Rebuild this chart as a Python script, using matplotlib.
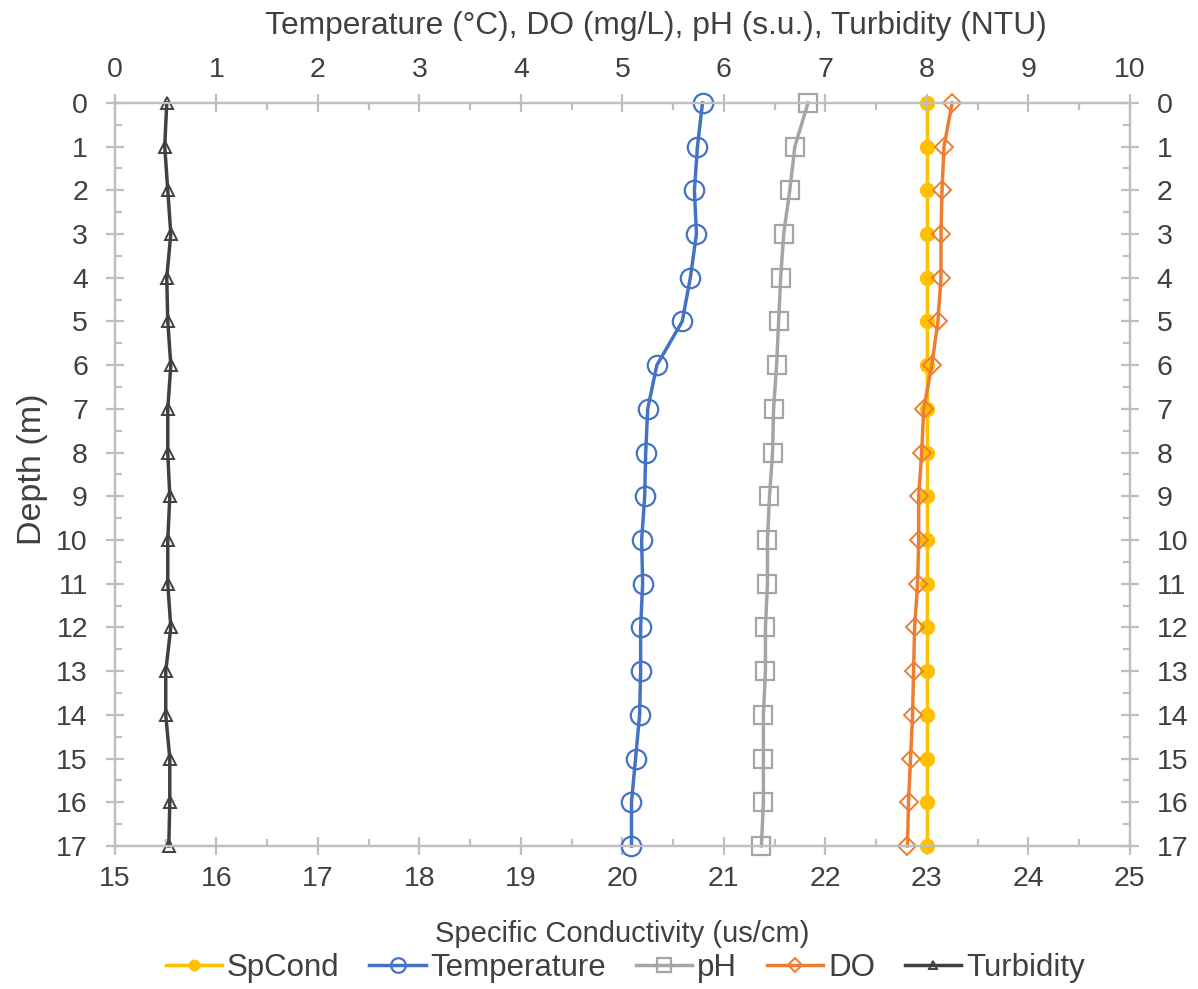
import matplotlib.pyplot as plt
from matplotlib.ticker import MultipleLocator

# Depth profile values
depth = list(range(18))
spcond = [23.0] * 18  # us/cm, bottom axis
temperature = [5.79, 5.74, 5.71, 5.73, 5.67, 5.59, 5.34, 5.25, 5.23, 5.22,
               5.19, 5.20, 5.18, 5.18, 5.17, 5.13, 5.09, 5.09]
ph = [6.83, 6.70, 6.65, 6.59, 6.56, 6.54, 6.52, 6.49, 6.48, 6.45,
      6.43, 6.43, 6.41, 6.41, 6.39, 6.39, 6.39, 6.37]
do = [8.25, 8.17, 8.15, 8.14, 8.14, 8.11, 8.05, 7.97, 7.95, 7.92,
      7.92, 7.91, 7.88, 7.87, 7.86, 7.84, 7.82, 7.81]
turbidity = [0.51, 0.49, 0.52, 0.55, 0.51, 0.52, 0.55, 0.52, 0.52, 0.54,
             0.52, 0.52, 0.55, 0.50, 0.50, 0.54, 0.54, 0.53]

plt.rcParams['font.family'] = ['Liberation Sans', 'DejaVu Sans']
txt = '#404040'
spine = '#bfbfbf'

fig = plt.figure(figsize=(11.98, 9.89), dpi=100)
ax = fig.add_axes([0.096, 0.1446, 0.847, 0.7514])
ax2 = ax.twiny()

# SpCond on the bottom axis
l1, = ax.plot(spcond, depth, color='#FFC000', lw=2.5, marker='o', ms=10,
              label='SpCond', clip_on=False)

# everything else on the top axis
l2, = ax2.plot(temperature, depth, color='#4472C4', lw=2.5, marker='o', ms=14,
               mfc='none', mew=1.6, label='Temperature', clip_on=False)
l3, = ax2.plot(ph, depth, color='#A5A5A5', lw=2.5, marker='s', ms=13,
               mfc='none', mew=1.6, label='pH', clip_on=False)
l4, = ax2.plot(do, depth, color='#ED7D31', lw=2.5, marker='D', ms=9,
               mfc='none', mew=1.4, label='DO', clip_on=False)
l5, = ax2.plot(turbidity, depth, color='#404040', lw=2.5, marker='^', ms=8,
               mfc='none', mew=1.4, label='Turbidity', clip_on=False)

ax.set_xlim(15, 25)
ax2.set_xlim(0, 10)
ax.set_ylim(17, 0)

ax.xaxis.set_major_locator(MultipleLocator(1))
ax.xaxis.set_minor_locator(MultipleLocator(0.5))
ax2.xaxis.set_major_locator(MultipleLocator(1))
ax2.xaxis.set_minor_locator(MultipleLocator(0.5))
ax.yaxis.set_major_locator(MultipleLocator(1))
ax.yaxis.set_minor_locator(MultipleLocator(0.5))

for a in (ax, ax2):
    for s in a.spines.values():
        s.set_color(spine)
        s.set_linewidth(1.6)
    a.tick_params(which='major', direction='inout', length=13, width=1.6,
                  color=spine, labelcolor=txt, labelsize=20.5)
    a.tick_params(which='minor', direction='in', length=5, width=1.6, color=spine)

ax.tick_params(axis='y', which='both', left=True, right=True,
               labelleft=True, labelright=True)
ax.tick_params(axis='y', which='major', pad=13)
ax.tick_params(axis='x', which='both', top=False)
ax.tick_params(axis='x', which='major', pad=8)
ax2.tick_params(axis='x', which='both', bottom=False)
ax2.tick_params(axis='x', which='major', pad=8)

ax.set_xlabel('Specific Conductivity (us/cm)', fontsize=21, color=txt, labelpad=20)
ax2.set_xlabel('Temperature (°C), DO (mg/L), pH (s.u.), Turbidity (NTU)',
               fontsize=22.9, color=txt, labelpad=16)
ax2.xaxis.label.set_x(0.533)
ax.set_ylabel('Depth (m)', fontsize=24.5, color=txt, labelpad=6)
ax.yaxis.label.set_y(0.507)

fig.legend(handles=[l1, l2, l3, l4, l5], loc='center', ncol=5,
           bbox_to_anchor=(0.522, 0.021), frameon=False, fontsize=22.5,
           markerscale=0.75, handlelength=1.8, handletextpad=0.16,
           columnspacing=0.95, labelcolor=txt, borderpad=0)

fig.savefig('out.png', dpi=100)
